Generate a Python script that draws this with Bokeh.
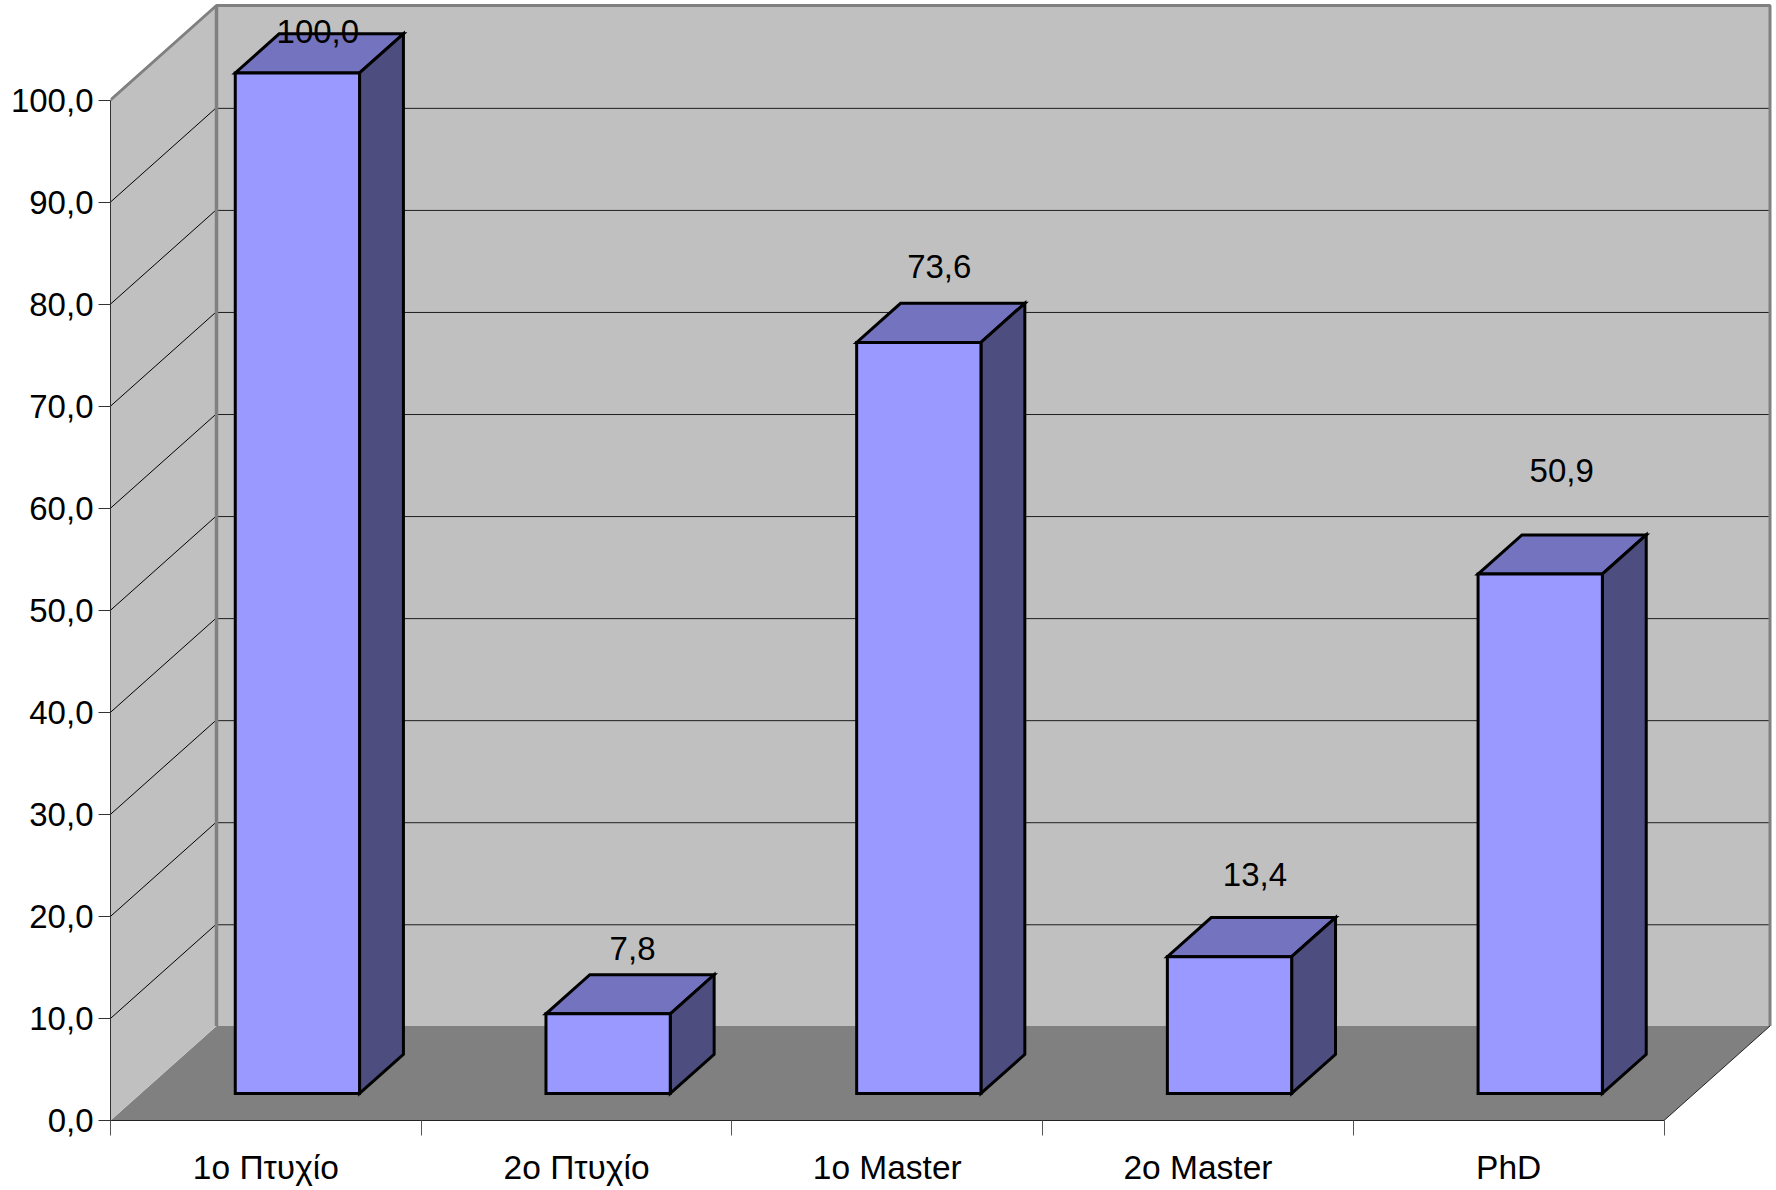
from bokeh.plotting import figure
from bokeh.models import FixedTicker, Range1d, ColumnDataSource
from bokeh.embed import file_html
from bokeh.resources import INLINE
from bokeh.core.properties import value

categories = ["1o Πτυχίο", "2o Πτυχίο", "1o Master", "2o Master", "PhD"]
values = [100.0, 7.8, 73.6, 13.4, 50.9]
value_labels = ["100,0", "7,8", "73,6", "13,4", "50,9"]
y_ticks = [0, 10, 20, 30, 40, 50, 60, 70, 80, 90, 100]
y_tick_labels = ["0,0", "10,0", "20,0", "30,0", "40,0", "50,0", "60,0", "70,0", "80,0", "90,0", "100,0"]

# layout: pixel offsets of the hand-placed data labels above the bar tops
label_lift = [21, 45, 56, 62, 83]
label_shift = [-1, 3, -1, 4, 0]

FONT = "Liberation Sans"
FS = "33px"
FS_X = "33.5px"
WALL, FLOOR = "#C0C0C0", "#808080"
FRONT, TOP, SIDE = "#9999FF", "#7373BF", "#4D4D80"

W, H = 1776, 1190
LEFT, BOTTOM = 110, 1120      # frame origin in figure pixels
CAT_PX = 310.7
VAL_PX = 10.205
DEPTH_X_PX, DEPTH_Y_PX = 106.0, 94.5
DX, DY = DEPTH_X_PX / CAT_PX, DEPTH_Y_PX / VAL_PX
x_max = (W - LEFT) / CAT_PX
y_max = BOTTOM / VAL_PX


def proj(x, v, d):
    return x + d * DX, v + d * DY


p = figure(frame_width=W - LEFT, frame_height=BOTTOM, output_backend="svg", toolbar_location=None,
           x_range=Range1d(0, x_max), y_range=Range1d(0, y_max),
           min_border_left=LEFT, min_border_bottom=H - BOTTOM, min_border_top=0, min_border_right=0,
           outline_line_color=None, background_fill_color=None, border_fill_color=None,
           margin=(0, 0, 0, 0))
p.grid.visible = False

n = len(categories)
top_v = y_ticks[-1]
# floor
fx, fy = zip(*[proj(0, 0, 0), proj(n, 0, 0), proj(n, 0, 1), proj(0, 0, 1)])
p.patch(list(fx), list(fy), fill_color=FLOOR, line_color=None)
# side wall
sx, sy = zip(*[proj(0, 0, 0), proj(0, 0, 1), proj(0, top_v, 1), proj(0, top_v, 0)])
p.patch(list(sx), list(sy), fill_color=WALL, line_color=None)
# back wall
bx, by = zip(*[proj(0, 0, 1), proj(n, 0, 1), proj(n, top_v, 1), proj(0, top_v, 1)])
p.patch(list(bx), list(by), fill_color=WALL, line_color=None)

# gridlines
for t in y_ticks[1:-1]:
    a, b, c = proj(0, t, 0), proj(0, t, 1), proj(n, t, 1)
    p.line([a[0], b[0]], [a[1], b[1]], line_color="#000000", line_width=1)
    p.line([b[0], c[0]], [b[1] - 0.08, c[1] - 0.08], line_color="#000000", line_width=1, line_alpha=0.85)

# wall edges
e = [proj(0, top_v, 0), proj(0, top_v, 1), proj(n, top_v, 1), proj(n, 0, 1)]
p.line([q[0] for q in e], [q[1] for q in e], line_color=FLOOR, line_width=3)
e2 = [proj(0, 0, 1), proj(0, top_v, 1)]
p.line([q[0] for q in e2], [q[1] for q in e2], line_color=FLOOR, line_width=3.5)
e3 = [proj(n, 0, 0), proj(n, 0, 1)]
p.line([q[0] for q in e3], [q[1] for q in e3], line_color="#222222", line_width=1)

# bars
BAR_L, BAR_W = 0.304, 0.40
D0, D1 = 0.286, 0.70
for i, v in enumerate(values):
    x0, x1 = i + BAR_L, i + BAR_L + BAR_W
    faces = [
        ([(x0, v, D0), (x1, v, D0), (x1, v, D1), (x0, v, D1)], TOP),
        ([(x1, 0, D0), (x1, 0, D1), (x1, v, D1), (x1, v, D0)], SIDE),
        ([(x0, 0, D0), (x1, 0, D0), (x1, v, D0), (x0, v, D0)], FRONT),
    ]
    for pts, color in faces:
        xy = [proj(*q) for q in pts]
        p.patch([q[0] for q in xy], [q[1] for q in xy], fill_color=color,
                line_color="#000000", line_width=3, line_join="miter")

# data labels
lx, ly = [], []
for i, v in enumerate(values):
    a, b = proj(i + 0.5, v, 0.5)
    lx.append(a + label_shift[i] / CAT_PX)
    ly.append(b + label_lift[i] / VAL_PX)
src = ColumnDataSource(dict(x=lx, y=ly, t=value_labels))
p.text("x", "y", text="t", source=src, text_font=value(FONT), text_font_size=FS,
       text_align="center", text_baseline="middle", text_color="#000000")

# axes
ya = p.yaxis[0]
ya.ticker = FixedTicker(ticks=y_ticks)
ya.bounds = (0, 100)
ya.major_label_overrides = {t: s for t, s in zip(y_ticks, y_tick_labels)}
ya.major_tick_out = 12
ya.major_tick_in = 0
ya.minor_tick_out = 0
ya.minor_tick_in = 0
ya.axis_line_color = "#333333"
ya.major_tick_line_color = "#333333"
ya.major_label_standoff = 5
ya.major_label_text_font = FONT
ya.major_label_text_font_size = FS
ya.major_label_text_color = "#000000"

xa = p.xaxis[0]
centers = [i + 0.5 for i in range(n)]
xa.ticker = FixedTicker(ticks=centers, minor_ticks=list(range(n + 1)))
xa.bounds = (0, n)
xa.major_label_overrides = {c: s for c, s in zip(centers, categories)}
xa.major_tick_out = 0
xa.major_tick_in = 0
xa.minor_tick_out = 15
xa.minor_tick_in = 0
xa.axis_line_color = "#222222"
xa.minor_tick_line_color = "#555555"
xa.major_label_standoff = 13
xa.major_label_text_font = FONT
xa.major_label_text_font_size = FS_X
xa.major_label_text_color = "#000000"

open("out.html", "w").write(file_html(p, INLINE))
